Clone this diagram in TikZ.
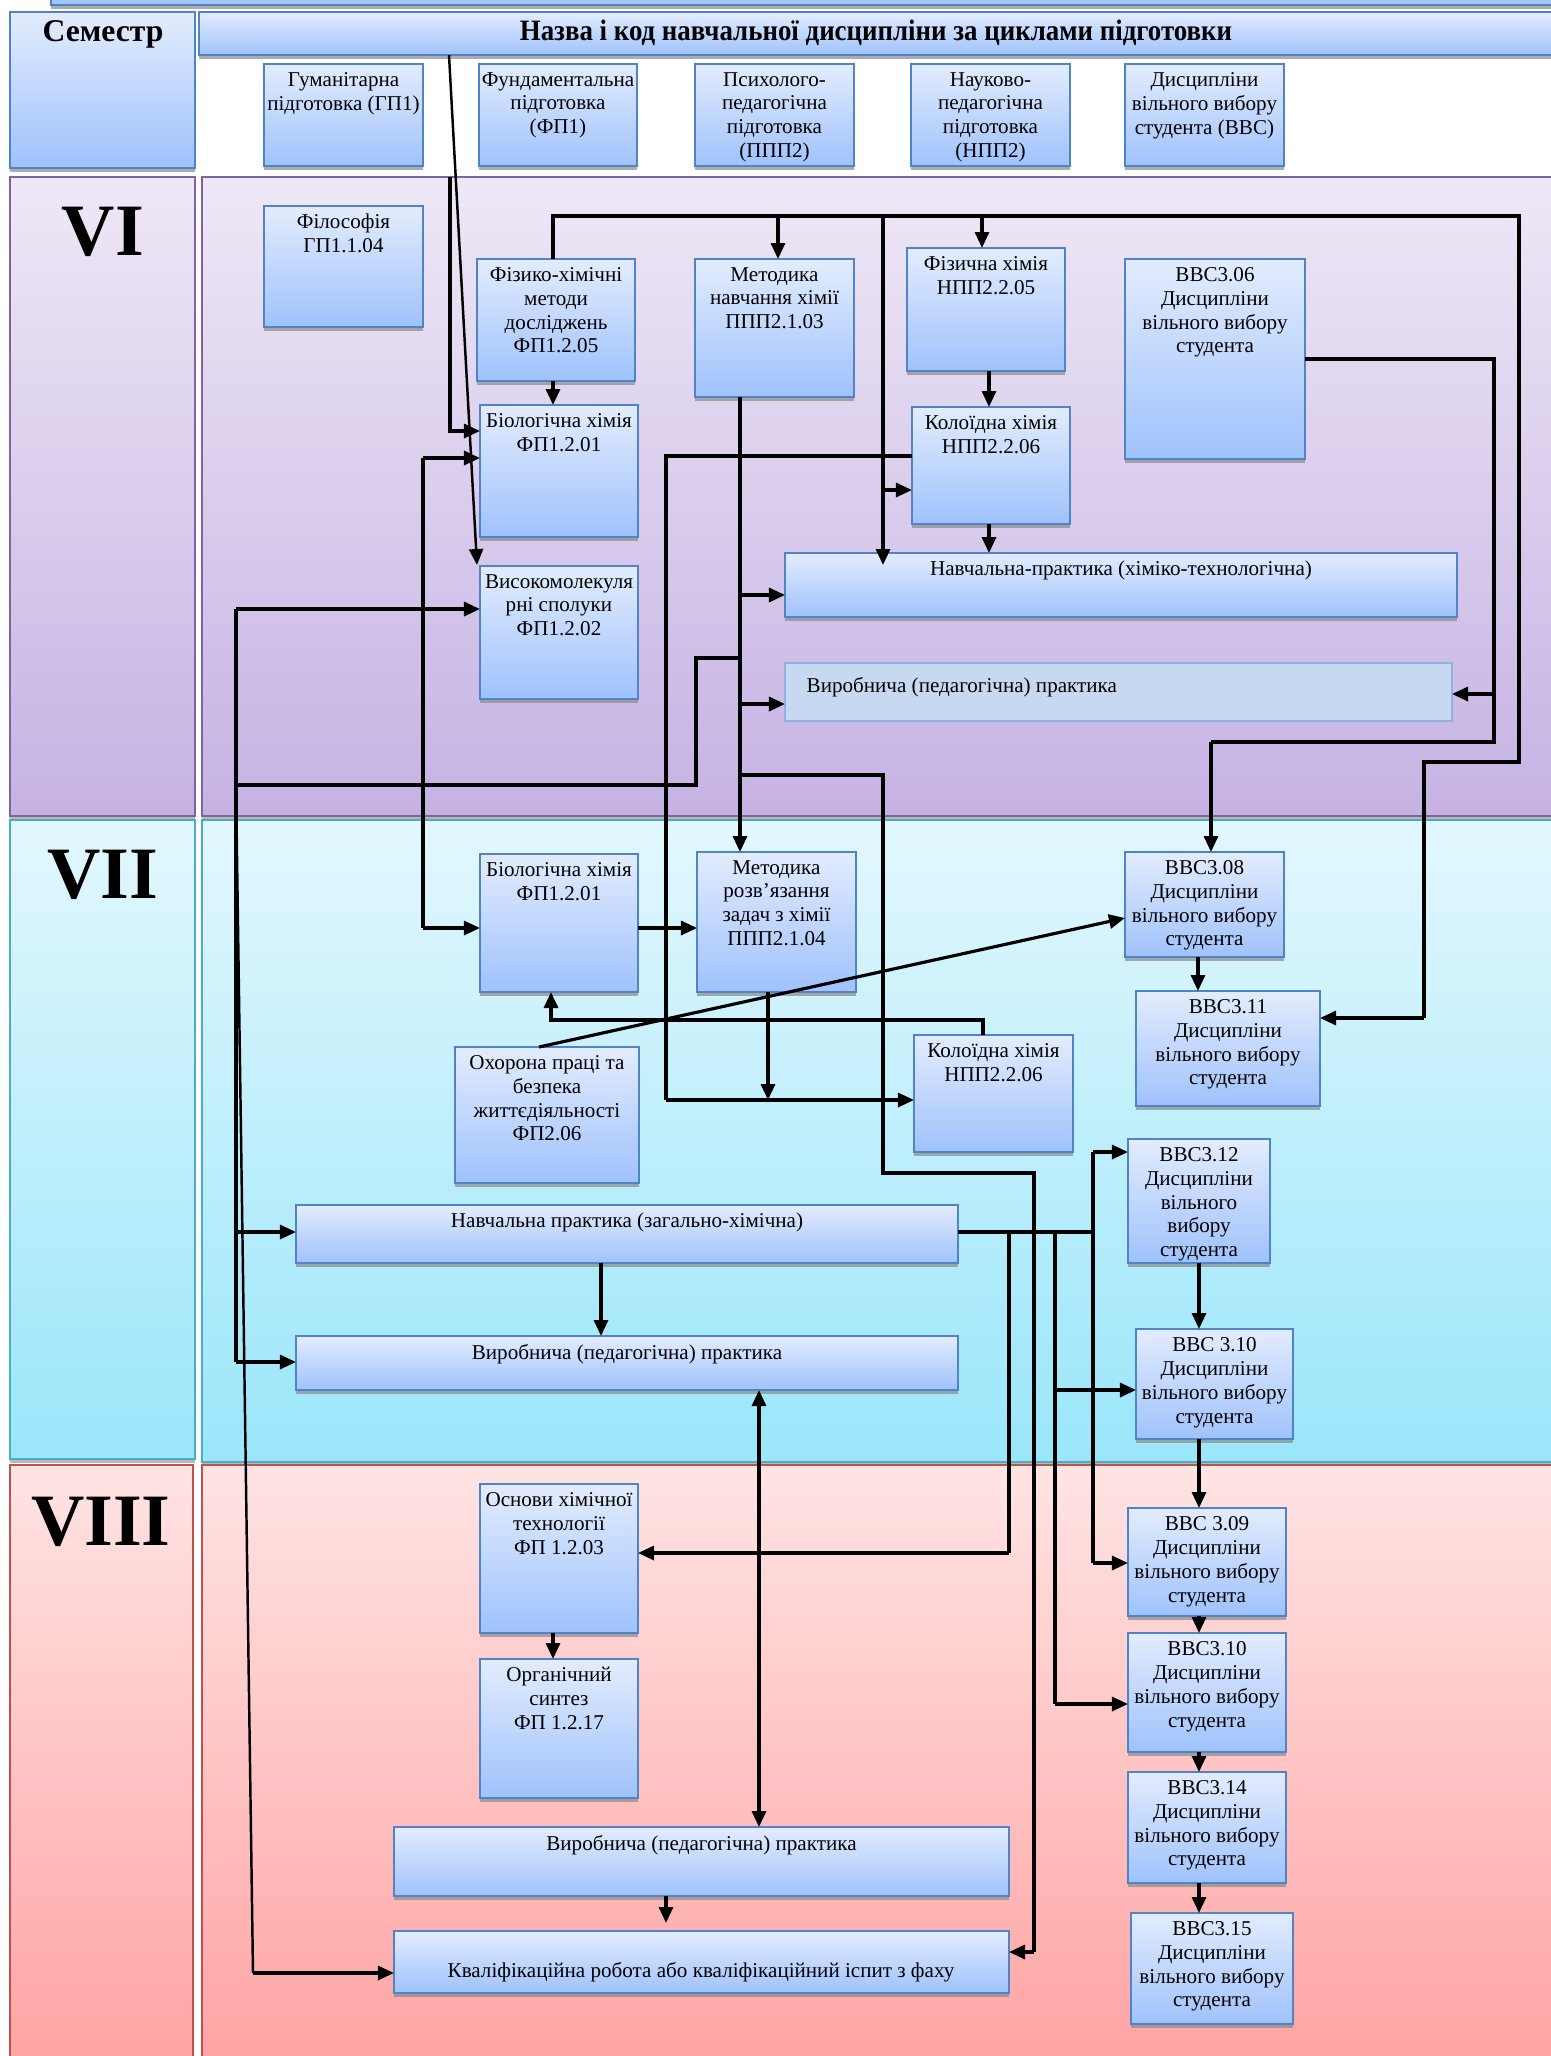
\documentclass[tikz,border=0pt]{standalone}
\usepackage{fontspec}
\setmainfont{Liberation Serif}
\usetikzlibrary{arrows.meta,shadows}

\definecolor{boxtop}{HTML}{E3ECFD}
\definecolor{boxbot}{HTML}{9FC2FC}
\definecolor{boxline}{HTML}{4F85C6}
\definecolor{shadowc}{HTML}{8A8A8A}
\definecolor{vitop}{HTML}{EFE8F6}
\definecolor{vibot}{HTML}{C5B2E3}
\definecolor{viline}{HTML}{8064A2}
\definecolor{viitop}{HTML}{E3F7FD}
\definecolor{viibot}{HTML}{9AE6FA}
\definecolor{viiline}{HTML}{4BACC6}
\definecolor{viiitop}{HTML}{FFE4E4}
\definecolor{viiibot}{HTML}{FFA2A2}
\definecolor{viiiline}{HTML}{C0504D}
\definecolor{flatfill}{HTML}{C6D9F0}
\definecolor{flatline}{HTML}{8DB3E2}

\newcommand\fs{\fontsize{6}{6.8}\selectfont}
\newcommand\romanfs{\fontsize{21}{24}\selectfont\bfseries}
\newcommand\semfs{\fontsize{9}{10}\selectfont\bfseries}
\newcommand\headfs{\fontsize{8.4}{10}\selectfont\bfseries\addfontfeatures{FakeStretch=0.91}}

\tikzset{
  box/.style={draw=boxline, line width=0.6pt, top color=boxtop, bottom color=boxbot,
    inner sep=0pt, outer sep=0pt,
    drop shadow={shadow xshift=0pt, shadow yshift=-0.035cm, opacity=0.7, fill=shadowc}},
  flatbox/.style={draw=flatline, line width=0.6pt, fill=flatfill, inner sep=0pt, outer sep=0pt},
  pan/.style={line width=0.8pt, inner sep=0pt, outer sep=0pt,
    drop shadow={shadow xshift=0pt, shadow yshift=-0.035cm, opacity=0.6, fill=shadowc}},
  sixp/.style={pan, draw=viline, top color=vitop, bottom color=vibot},
  sevp/.style={pan, draw=viiline, top color=viitop, bottom color=viibot},
  eigp/.style={pan, draw=viiiline, top color=viiitop, bottom color=viiibot},
  lbl/.style={anchor=north, align=center, inner sep=0pt, font=\fs},
  romn/.style={font=\romanfs, inner sep=0pt},
  ln/.style={line width=0.9pt},
  arr/.style={line width=0.9pt, -{Triangle[length=0.16cm,width=0.14cm]}},
  arrb/.style={line width=0.9pt, {Triangle[length=0.16cm,width=0.14cm]}-{Triangle[length=0.16cm,width=0.14cm]}},
}

% box: name, x1, y1, x2, y2, text (pixel coordinates, y downwards)
\newcommand\bx[7][box]{%
  \node[#1, minimum width={(#5-#3)*0.01cm}, minimum height={(#6-#4)*0.01cm}]
    (#2) at ({(#3+#5)/2},{(#4+#6)/2}) {};
  \node[lbl] (#2-t) at ([yshift=-0.075cm]#2.north) {#7};}
% panel: name, style, x1, y1, x2, y2
\newcommand\pnl[6]{%
  \node[#2, minimum width={(#5-#3)*0.01cm}, minimum height={(#6-#4)*0.01cm}]
    (#1) at ({(#3+#5)/2},{(#4+#6)/2}) {};}

\begin{document}
\begin{tikzpicture}[x=0.01cm, y=-0.01cm]
\useasboundingbox (0,0) rectangle (1551,2056);
\clip (0,0) rectangle (1551,2056);
\fill[white] (0,0) rectangle (1551,2056);

% semester bands
\pnl{p6l}{sixp}{10}{177}{195}{816}
\pnl{p6r}{sixp}{202}{177}{1552}{816}
\pnl{p7l}{sevp}{10}{820}{195}{1459}
\pnl{p7r}{sevp}{202}{820}{1552}{1462}
\pnl{p8l}{eigp}{10}{1465}{193}{2075}
\pnl{p8r}{eigp}{202}{1465}{1552}{2075}

\node[romn] (r6) at (103,232) {VI};
\node[romn] (r7) at (103,875) {VII};
\node[romn] (r8) at (101,1522) {VIII};

% header
\bx{strip}{51}{-40}{1560}{5}{}
\node[box, minimum width={185*0.01cm}, minimum height={156*0.01cm}, drop shadow={opacity=0}] (sem) at (102.5,90) {};
\node[font=\semfs, inner sep=0pt] (sem-t) at (103,34) {Семестр};
\bx{hdr}{199}{12}{1560}{55}{}
\node[font=\headfs, inner sep=0pt] (hdr-t) at (876,33) {Назва і код навчальної дисципліни за циклами підготовки};

\bx{c1}{264}{64}{423}{166}{Гуманітарна\\підготовка (ГП1)}
\bx{c2}{479}{64}{637}{166}{Фундаментальна\\підготовка\\(ФП1)}
\bx{c3}{695}{64}{854}{166}{Психолого-\\педагогічна\\підготовка\\(ППП2)}
\bx{c4}{911}{64}{1070}{166}{Науково-\\педагогічна\\підготовка\\(НПП2)}
\bx{c5}{1125}{64}{1284}{166}{Дисципліни\\вільного вибору\\студента (ВВС)}

% semester VI
\bx{fil}{264}{206}{423}{327}{Філософія\\ГП1.1.04}
\bx{fhm}{477}{259}{635}{381}{Фізико-хімічні\\методи\\досліджень\\ФП1.2.05}
\bx{mnh}{695}{259}{854}{397}{Методика\\навчання хімії\\ППП2.1.03}
\bx{fzh}{907}{248}{1065}{371}{Фізична хімія\\НПП2.2.05}
\bx{v306}{1125}{259}{1305}{459}{ВВС3.06\\Дисципліни\\вільного вибору\\студента}
\bx{bio6}{480}{405}{638}{537}{Біологічна хімія\\ФП1.2.01}
\bx{kol6}{912}{407}{1070}{524}{Колоїдна хімія\\НПП2.2.06}
\bx{vmc}{480}{566}{638}{699}{Високомолекуля\\рні сполуки\\ФП1.2.02}
\bx{np6}{785}{553}{1457}{617}{Навчальна-практика (хіміко-технологічна)}
\bx[flatbox]{vp6}{785}{663}{1452}{721}{}
\node[font=\fs, anchor=west, inner sep=0pt] (vp6-t) at (806,687) {Виробнича (педагогічна) практика};

% semester VII
\bx{bio7}{480}{854}{638}{992}{Біологічна хімія\\ФП1.2.01}
\bx{mrz}{697}{852}{856}{992}{Методика\\розв’язання\\задач з хімії\\ППП2.1.04}
\bx{v308}{1125}{852}{1284}{957}{ВВС3.08\\Дисципліни\\вільного вибору\\студента}
\bx{v311}{1136}{991}{1320}{1106}{ВВС3.11\\Дисципліни\\вільного вибору\\студента}
\bx{ohp}{455}{1047}{639}{1183}{Охорона праці та\\безпека\\життєдіяльності\\ФП2.06}
\bx{kol7}{914}{1035}{1073}{1152}{Колоїдна хімія\\НПП2.2.06}
\bx{v312}{1128}{1139}{1270}{1263}{ВВС3.12\\Дисципліни\\вільного\\вибору\\студента}
\bx{np7}{296}{1205}{958}{1263}{Навчальна практика (загально-хімічна)}
\bx{vp7}{296}{1336}{958}{1390}{Виробнича (педагогічна) практика}
\bx{v310a}{1136}{1329}{1293}{1439}{ВВС 3.10\\Дисципліни\\вільного вибору\\студента}

% semester VIII
\bx{osn}{480}{1484}{638}{1633}{Основи хімічної\\технології\\ФП 1.2.03}
\bx{org}{480}{1659}{638}{1798}{Органічний\\синтез\\ФП 1.2.17}
\bx{v309}{1128}{1508}{1286}{1616}{ВВС 3.09\\Дисципліни\\вільного вибору\\студента}
\bx{v310b}{1128}{1633}{1286}{1752}{ВВС3.10\\Дисципліни\\вільного вибору\\студента}
\bx{v314}{1128}{1772}{1286}{1883}{ВВС3.14\\Дисципліни\\вільного вибору\\студента}
\bx{v315}{1131}{1913}{1293}{2024}{ВВС3.15\\Дисципліни\\вільного вибору\\студента}
\bx{vp8}{394}{1827}{1009}{1896}{Виробнича (педагогічна) практика}
\bx{kr}{394}{1931}{1009}{1993}{}
\node[font=\fs, inner sep=0pt] (kr-t) at (701,1972) {Кваліфікаційна робота або кваліфікаційний іспит з фаху};

% junction points
\coordinate (hd) at (449,55);
\coordinate (a6) at (450,177);
\coordinate (bus) at (553,216);
\coordinate (tr) at (740,397);
\coordinate (lt) at (236,609);

% connectors, semester VI
\draw[arr, line width=0.7pt] (hd) -- (477,565);
\draw[arr] (a6) -- (450,431) -- (bio6.west |- 0,431);
\draw[ln] (fhm.north -| bus) -- (bus) -- (1519,216) -- (1519,762) -- (1424,762) -- (1424,1018);
\draw[arr] (1424,1018) -- (v311.east |- 0,1018);
\draw[arr] (778,216) -- (778,259);
\draw[arr] (982,216) -- (982,248);
\draw[arr] (883,216) -- (883,565);
\draw[arr] (883,490) -- (kol6.west |- 0,490);
\draw[arr] (553,381) -- (553,405);
\draw[arr] (989,371) -- (989,407);
\draw[arr] (989,524) -- (989,553);
\draw[ln] (v306.east |- 0,359) -- (1494,359) -- (1494,742) -- (1211,742);
\draw[arr] (1211,742) -- (1211,852);
\draw[arr] (1494,694) -- (vp6.east |- 0,694);

% trunk from Методика навчання хімії
\draw[arr] (tr) -- (740,852);
\draw[arr] (740,595) -- (np6.west |- 0,595);
\draw[arr] (740,704) -- (vp6.west |- 0,704);
\draw[ln] (740,658) -- (696,658) -- (696,785) -- (236,785);
\draw[ln] (740,775) -- (883,775) -- (883,1173) -- (1034,1173) -- (1034,1952);
\draw[arr] (1034,1952) -- (kr.east |- 0,1952);

% left trunk
\draw[ln] (lt) -- (236,1362);
\draw[arr] (lt) -- (vmc.west |- 0,609);
\draw[arr] (236,1232) -- (np7.west |- 0,1232);
\draw[arr] (236,1362) -- (vp7.west |- 0,1362);
\draw[ln, line width=0.7pt] (236,785) -- (253,1973);
\draw[arr] (253,1973) -- (kr.west |- 0,1973);

\draw[ln] (423,458) -- (423,928);
\draw[arr] (423,458) -- (bio6.west |- 0,458);
\draw[arr] (423,928) -- (bio7.west |- 0,928);

\draw[ln] (kol6.west |- 0,456) -- (666,456) -- (666,1100);
\draw[arr] (666,1100) -- (kol7.west |- 0,1100);
\draw[arr] (768,992) -- (768,1100);

% connectors, semester VII
\draw[arr] (bio7.east |- 0,928) -- (mrz.west |- 0,928);
\draw[arr] (983,1035) -- (983,1020) -- (551,1020) -- (551,992);
\draw[arr] (539,1047) -- (1125,918);
\draw[arr] (1198,957) -- (1198,991);
\draw[arr] (601,1263) -- (601,1336);
\draw[ln] (np7.east |- 0,1232) -- (1093,1232);
\draw[ln] (1009,1232) -- (1009,1553);
\draw[arr] (1009,1553) -- (osn.east |- 0,1553);
\draw[ln] (1055,1232) -- (1055,1704);
\draw[arr] (1055,1390) -- (v310a.west |- 0,1390);
\draw[arr] (1055,1704) -- (v310b.west |- 0,1704);
\draw[ln] (1093,1152) -- (1093,1563);
\draw[arr] (1093,1152) -- (v312.west |- 0,1152);
\draw[arr] (1093,1563) -- (v309.west |- 0,1563);

% elective chain
\draw[arr] (1199,1263) -- (1199,1329);
\draw[arr] (1199,1439) -- (1199,1508);
\draw[arr] (1199,1616) -- (1199,1633);
\draw[arr] (1199,1752) -- (1199,1772);
\draw[arr] (1199,1883) -- (1199,1913);

% connectors, semester VIII
\draw[arrb] (759,1390) -- (759,1827);
\draw[arr] (553,1633) -- (553,1659);
\draw[arr] (666,1896) -- (666,1923);
\end{tikzpicture}
\end{document}
